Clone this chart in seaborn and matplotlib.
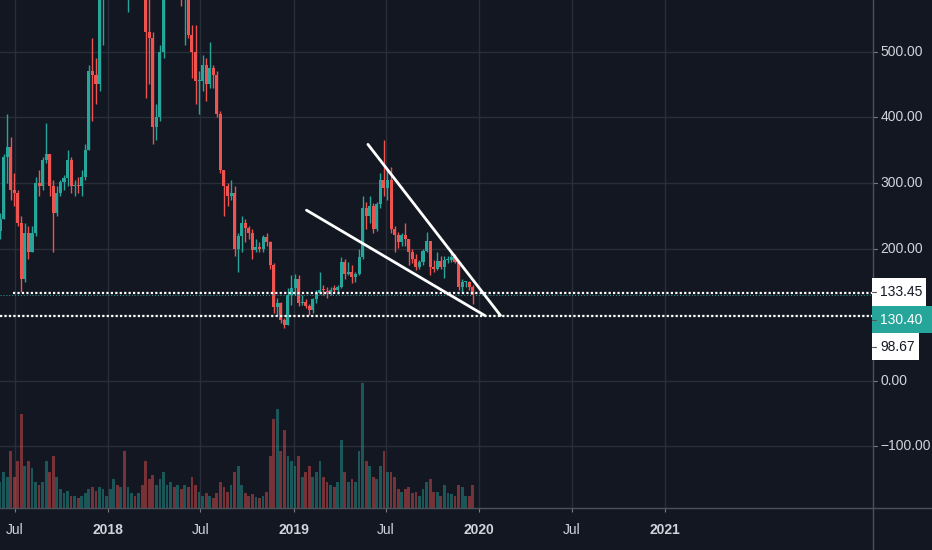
import numpy as np
import pandas as pd
import matplotlib
matplotlib.use("Agg")
import matplotlib.pyplot as plt
from matplotlib.patches import Rectangle
from matplotlib.lines import Line2D
from matplotlib.transforms import blended_transform_factory
import seaborn as sns

# ---------------- data (weekly candles) ----------------
week_start = pd.date_range("2017-05-29", periods=134, freq="7D")
first_open = 228
close = [245, 340, 355, 290, 285, 240, 155, 225, 195, 225,
         300, 295, 335, 345, 295, 255, 285, 302, 308, 335,
         295, 298, 295, 310, 350, 470, 465, 450, 700, 700,
         750, 1040, 1270, 1050, 1110, 820, 830, 940, 840, 860,
         700, 530, 520, 385, 400, 500, 600, 680, 790, 680,
         700, 590, 600, 525, 500, 455, 455, 480, 450, 475,
         465, 405, 320, 295, 280, 285, 200, 220, 240, 232,
         225, 198, 203, 200, 218, 210, 175, 112, 118, 92,
         85, 130, 140, 155, 118, 120, 113, 107, 124, 133,
         137, 136, 134, 138, 137, 142, 180, 162, 165, 157,
         162, 188, 262, 250, 265, 230, 268, 305, 292, 305,
         230, 222, 210, 222, 215, 195, 185, 172, 180, 197,
         212, 172, 170, 182, 172, 183, 183, 188, 180, 142,
         150, 150, 142, 130.40]
high = [255, 345, 405, 370, 315, 290, 250, 240, 235, 235,
        310, 320, 340, 392, 345, 305, 295, 305, 312, 350,
        340, 305, 310, 320, 360, 480, 520, 490, 730, 880,
        760, 1100, 1420, 1350, 1200, 1250, 900, 960, 960, 880,
        870, 730, 580, 530, 420, 510, 620, 710, 810, 800,
        740, 720, 630, 620, 540, 540, 470, 495, 490, 515,
        480, 470, 410, 320, 300, 305, 295, 225, 250, 245,
        235, 230, 215, 210, 222, 225, 212, 178, 125, 120,
        95, 140, 160, 162, 160, 130, 124, 116, 126, 137,
        165, 145, 142, 142, 145, 145, 188, 185, 180, 175,
        165, 200, 280, 272, 280, 270, 272, 315, 365, 320,
        325, 235, 226, 225, 240, 215, 200, 192, 183, 200,
        226, 212, 183, 195, 190, 190, 190, 195, 192, 182,
        155, 152, 152, 145]
low = [215, 245, 300, 275, 265, 235, 135, 150, 185, 195,
       220, 280, 290, 330, 280, 195, 250, 280, 290, 295,
       285, 280, 285, 280, 305, 350, 395, 420, 440, 510,
       640, 740, 1000, 780, 950, 790, 560, 820, 800, 810,
       690, 430, 450, 360, 365, 395, 490, 590, 650, 650,
       640, 570, 510, 520, 460, 420, 405, 440, 425, 445,
       445, 400, 315, 250, 265, 275, 190, 165, 195, 210,
       215, 185, 195, 195, 195, 205, 170, 102, 100, 88,
       80, 84, 115, 130, 114, 115, 110, 100, 102, 118,
       132, 130, 125, 130, 134, 132, 140, 155, 160, 148,
       150, 160, 185, 230, 240, 225, 228, 262, 280, 275,
       225, 195, 202, 205, 205, 175, 178, 168, 170, 175,
       195, 160, 165, 168, 170, 156, 178, 180, 178, 138,
       133, 142, 138, 117]
volume = [25, 35, 30, 55, 30, 45, 90, 40, 45, 38,
          25, 22, 25, 45, 35, 50, 30, 18, 14, 16,
          12, 12, 10, 12, 14, 18, 20, 16, 20, 18,
          12, 18, 28, 22, 20, 55, 20, 14, 12, 14,
          22, 45, 28, 32, 22, 28, 35, 22, 25, 20,
          22, 18, 22, 20, 30, 22, 15, 12, 14, 12,
          10, 14, 25, 20, 15, 22, 35, 40, 22, 14,
          12, 13, 11, 10, 12, 15, 50, 85, 95, 55,
          75, 50, 45, 40, 50, 30, 35, 40, 30, 35,
          45, 30, 25, 22, 20, 25, 65, 35, 25, 28,
          25, 55, 120, 45, 40, 30, 28, 40, 55, 35,
          35, 30, 18, 15, 18, 20, 14, 15, 12, 18,
          25, 28, 15, 15, 12, 22, 14, 13, 12, 22,
          20, 12, 12, 22]

level_upper = 133.45
level_upper_from = "2017-06-27"
level_lower = 98.67
last_price = 130.40
trend_a_dates = ["2019-05-27", "2020-02-12"]
trend_a_prices = [359, 99]
trend_b_dates = ["2019-01-26", "2020-01-12"]
trend_b_prices = [259, 99]
x_tick_dates = ["2017-07-01", "2018-01-01", "2018-07-01", "2019-01-01",
                "2019-07-01", "2020-01-01", "2020-07-01", "2021-01-01"]
x_tick_labels = ["Jul", "2018", "Jul", "2019", "Jul", "2020", "Jul", "2021"]
y_grid = [-100, 0, 100, 200, 300, 400, 500]
y_labels = [500, 400, 300, 200, 0, -100]

# ---------------- style ----------------
BG = "#131722"
GRID = "#2a2e39"
TXT = "#d1d4dc"
SEP = "#4c505b"
UP = "#26a69a"
DOWN = "#ef5350"

sns.set_style("dark", {"axes.facecolor": BG, "figure.facecolor": BG})
plt.rcParams["font.family"] = ["Liberation Sans", "DejaVu Sans"]
FS = 10.0

W, H = 932, 550
fig = plt.figure(figsize=(W / 100, H / 100), dpi=100)
fig.patch.set_facecolor(BG)
ax = fig.add_axes([0, 42 / H, 873 / W, 508 / H])
ax.set_facecolor(BG)

df = pd.DataFrame({"week": week_start, "close": close, "high": high,
                   "low": low, "volume": volume})
df["open"] = [first_open] + close[:-1]
df["mid"] = df["week"] + pd.Timedelta(days=3.5)
df["up"] = df["close"] >= df["open"]
colors = np.where(df["up"], UP, DOWN)

# volume on a twin axis
ax2 = ax.twinx()
ax2.bar(df["mid"], df["volume"], width=5.5, color=colors, alpha=0.45,
        linewidth=0)
ax2.set_ylim(0, max(volume) / 0.246)
ax2.set_yticks([])
for s in ax2.spines.values():
    s.set_visible(False)

# candles
ax.vlines(df["mid"], df["low"], df["high"], colors=colors, linewidth=1.0,
          zorder=3)
body = (df["close"] - df["open"]).to_numpy(dtype=float)
body = np.where(np.abs(body) < 2, 2.0, body)
ax.bar(df["mid"], body, bottom=df["open"], width=6.0, color=colors,
       linewidth=0, zorder=4)

# horizontal levels
xmin = pd.Timestamp("2017-07-01") - pd.Timedelta(days=29.5)
xmax = pd.Timestamp("2017-07-01") + pd.Timedelta(days=1689.6)
ax.hlines(level_upper, pd.Timestamp(level_upper_from), xmax, colors="white",
          linewidth=1.6, linestyles=(0, (1.0, 1.0)), zorder=5)
ax.hlines(level_lower, xmin, xmax, colors="white",
          linewidth=1.6, linestyles=(0, (1.0, 1.0)), zorder=5)
ax.hlines(last_price, xmin, xmax, colors=UP, linewidth=0.7,
          linestyles=(0, (1.0, 2.0)), zorder=5)

# trend lines
sns.lineplot(x=pd.to_datetime(trend_a_dates), y=trend_a_prices, ax=ax,
             color="white", linewidth=2.0, zorder=6)
sns.lineplot(x=pd.to_datetime(trend_b_dates), y=trend_b_prices, ax=ax,
             color="white", linewidth=2.0, zorder=6)

ax.set_xlim(xmin, xmax)
ax.set_ylim(-193.6, 578.4)
ax.set_xlabel("")
ax.set_ylabel("")

# grid and ticks
ax.set_yticks(y_grid)
ax.set_xticks(pd.to_datetime(x_tick_dates))
ax.set_xticklabels(x_tick_labels)
ax.grid(True, color=GRID, linewidth=1.0)
ax.set_axisbelow(True)
ax.tick_params(axis="y", left=False, labelleft=False)
ax.tick_params(axis="x", bottom=True, length=3, width=0.8, color="#787b86",
               labelcolor=TXT, labelsize=FS, pad=8)
for lab, txt in zip(ax.get_xticklabels(), x_tick_labels):
    if txt.isdigit():
        lab.set_fontweight("bold")
for s in ax.spines.values():
    s.set_visible(False)

# right price scale
tr = blended_transform_factory(ax.transAxes, ax.transData)
for v in y_labels:
    ax.plot([1.0, 1.0046], [v, v], transform=tr, color="#787b86", lw=0.8,
            clip_on=False)
    s = f"{v:.2f}".replace("-", "\u2212")
    ax.text(1.0085, v, s, transform=tr, ha="left", va="center", color=TXT,
            fontsize=FS, clip_on=False)

# price labels (boxes)
def px_box(x0, y0, x1, y1, face, text, tcolor, ty):
    fig.patches.append(Rectangle((x0 / W, 1 - y1 / H), (x1 - x0) / W,
                                 (y1 - y0) / H, transform=fig.transFigure,
                                 facecolor=face, edgecolor="none", zorder=10))
    fig.text(880 / W, 1 - ty / H, text, ha="left", va="center", color=tcolor,
             fontsize=FS, zorder=11)
    fig.lines.append(Line2D([872 / W, 876 / W], [1 - ty / H, 1 - ty / H],
                            transform=fig.transFigure, color="#555",
                            lw=0.8, zorder=11))

px_box(872, 278, 926, 306, "white", f"{level_upper:.2f}", "#131722", 292)
px_box(872, 306, 932, 333, UP, f"{last_price:.2f}", "white", 320)
px_box(872, 333, 919, 360, "white", f"{level_lower:.2f}", "#131722", 347)

# separators
fig.lines.append(Line2D([873 / W, 873 / W], [0, 1], transform=fig.transFigure,
                        color=SEP, lw=1.0, zorder=9))
fig.lines.append(Line2D([0, 1], [42 / H, 42 / H], transform=fig.transFigure,
                        color=SEP, lw=1.0, zorder=9))

fig.savefig("out.png", dpi=100, facecolor=BG)
